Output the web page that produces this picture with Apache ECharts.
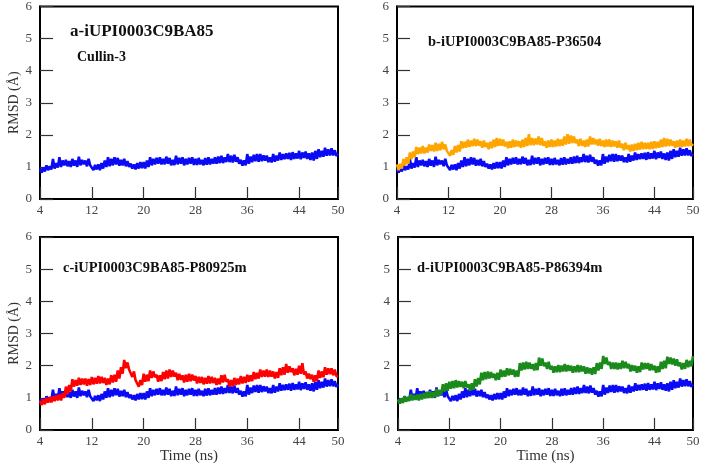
<!DOCTYPE html>
<html>
<head>
<meta charset="utf-8">
<script src="https://cdn.jsdelivr.net/npm/echarts@6/dist/echarts.min.js"></script>
<style>
  html, body { margin: 0; padding: 0; background: #fff; }
  #chart { width: 704px; height: 469px; }
</style>
</head>
<body>
<div id="chart"></div>
<script>
// time axis: 4 .. 50 ns, one sample every 0.25 ns
const tStart = 4;
const tStep = 0.25;

// reference complex (blue) - same trace in all four panels
const rmsdBlue = [
  0.95, 0.82, 0.98, 0.86,  1.05, 0.9, 1.02, 0.92,
  1.25, 0.95, 1.12, 0.98,  1.3, 1.0, 1.2, 1.05,
  1.22, 1.02, 1.18, 1.0,  1.25, 1.04, 1.2, 1.0,
  1.32, 1.05, 1.22, 1.08,  1.2, 1.02, 1.25, 1.05,
  1.1, 0.9, 1.06, 0.92,  1.08, 0.9, 1.12, 0.95,
  1.2, 1.0, 1.3, 1.02,  1.25, 1.05, 1.3, 1.08,
  1.28, 1.04, 1.22, 1.05,  1.25, 1.02, 1.18, 1.0,
  1.1, 0.95, 1.08, 0.92,  1.12, 0.95, 1.15, 0.96,
  1.15, 0.95, 1.2, 1.0,  1.3, 1.05, 1.25, 1.08,
  1.28, 1.1, 1.3, 1.08,  1.25, 1.08, 1.32, 1.1,
  1.28, 1.05, 1.22, 1.06,  1.35, 1.08, 1.28, 1.1,
  1.3, 1.05, 1.25, 1.08,  1.28, 1.1, 1.3, 1.06,
  1.25, 1.06, 1.28, 1.08,  1.22, 1.05, 1.28, 1.07,
  1.3, 1.08, 1.25, 1.1,  1.3, 1.1, 1.32, 1.12,
  1.35, 1.12, 1.3, 1.15,  1.4, 1.15, 1.35, 1.14,
  1.38, 1.16, 1.3, 1.1,  1.22, 1.04, 1.2, 1.05,
  1.4, 1.1, 1.32, 1.15,  1.38, 1.18, 1.4, 1.16,
  1.4, 1.18, 1.36, 1.2,  1.35, 1.15, 1.3, 1.14,
  1.4, 1.16, 1.35, 1.2,  1.45, 1.22, 1.4, 1.24,
  1.42, 1.25, 1.44, 1.22,  1.46, 1.25, 1.42, 1.26,
  1.5, 1.24, 1.45, 1.28,  1.48, 1.25, 1.42, 1.22,
  1.45, 1.2, 1.5, 1.25,  1.55, 1.3, 1.5, 1.32,
  1.6, 1.35, 1.55, 1.36,  1.58, 1.36, 1.52, 1.34,
  1.42
];

// b - P36504 (orange)
const rmsdOrange = [
  1.08, 0.9, 1.1, 0.95,  1.25, 1.05, 1.3, 1.1,
  1.45, 1.25, 1.48, 1.3,  1.62, 1.4, 1.6, 1.42,
  1.65, 1.42, 1.6, 1.45,  1.7, 1.5, 1.68, 1.48,
  1.75, 1.5, 1.72, 1.52,  1.78, 1.55, 1.7, 1.5,
  1.55, 1.35, 1.52, 1.38,  1.65, 1.45, 1.68, 1.48,
  1.8, 1.58, 1.78, 1.6,  1.85, 1.62, 1.82, 1.65,
  1.88, 1.65, 1.85, 1.66,  1.8, 1.6, 1.82, 1.62,
  1.75, 1.55, 1.78, 1.58,  1.85, 1.62, 1.9, 1.65,
  1.88, 1.66, 1.85, 1.64,  1.78, 1.58, 1.8, 1.6,
  1.85, 1.62, 1.82, 1.64,  1.8, 1.6, 1.85, 1.62,
  1.9, 1.65, 2.02, 1.68,  1.9, 1.68, 1.88, 1.7,
  1.95, 1.68, 1.9, 1.66,  1.8, 1.6, 1.82, 1.62,
  1.85, 1.62, 1.82, 1.64,  1.88, 1.65, 1.85, 1.66,
  1.95, 1.7, 2.02, 1.72,  1.98, 1.75, 1.95, 1.74,
  1.85, 1.65, 1.88, 1.66,  1.82, 1.62, 1.85, 1.64,
  1.95, 1.7, 1.9, 1.7,  1.85, 1.66, 1.88, 1.65,
  1.82, 1.62, 1.85, 1.64,  1.85, 1.62, 1.82, 1.64,
  1.8, 1.6, 1.82, 1.6,  1.72, 1.52, 1.75, 1.55,
  1.68, 1.48, 1.7, 1.5,  1.72, 1.52, 1.75, 1.54,
  1.78, 1.55, 1.75, 1.56,  1.75, 1.55, 1.78, 1.56,
  1.8, 1.58, 1.78, 1.6,  1.85, 1.62, 1.9, 1.64,
  1.88, 1.65, 1.85, 1.66,  1.8, 1.6, 1.82, 1.62,
  1.85, 1.62, 1.82, 1.64,  1.88, 1.65, 1.85, 1.66,
  1.72
];

// c - P80925m (red)
const rmsdRed = [
  0.9, 0.78, 0.95, 0.8,  1.0, 0.85, 1.02, 0.86,
  1.05, 0.9, 1.08, 0.92,  1.1, 0.92, 1.15, 1.0,
  1.35, 1.1, 1.4, 1.2,  1.58, 1.35, 1.55, 1.38,
  1.62, 1.4, 1.6, 1.42,  1.6, 1.38, 1.58, 1.4,
  1.65, 1.42, 1.62, 1.44,  1.68, 1.45, 1.65, 1.46,
  1.62, 1.4, 1.6, 1.42,  1.7, 1.48, 1.72, 1.5,
  1.85, 1.6, 1.95, 1.75,  2.18, 1.92, 2.1, 1.88,
  1.9, 1.65, 1.82, 1.55,  1.58, 1.35, 1.55, 1.4,
  1.75, 1.5, 1.72, 1.52,  1.85, 1.62, 1.82, 1.64,
  1.72, 1.5, 1.7, 1.52,  1.8, 1.58, 1.85, 1.6,
  1.88, 1.65, 1.85, 1.66,  1.78, 1.55, 1.75, 1.56,
  1.7, 1.48, 1.72, 1.5,  1.75, 1.52, 1.72, 1.54,
  1.68, 1.45, 1.65, 1.46,  1.65, 1.42, 1.62, 1.44,
  1.68, 1.45, 1.65, 1.46,  1.62, 1.4, 1.6, 1.42,
  1.7, 1.48, 1.72, 1.5,  1.58, 1.35, 1.55, 1.36,
  1.62, 1.4, 1.6, 1.42,  1.68, 1.45, 1.65, 1.46,
  1.72, 1.5, 1.7, 1.52,  1.8, 1.58, 1.78, 1.6,
  1.88, 1.65, 1.85, 1.66,  1.88, 1.65, 1.85, 1.66,
  1.82, 1.6, 1.8, 1.62,  1.92, 1.7, 1.95, 1.72,
  2.05, 1.78, 1.98, 1.8,  1.92, 1.7, 1.9, 1.72,
  2.0, 1.75, 2.08, 1.72,  1.82, 1.6, 1.75, 1.58,
  1.72, 1.5, 1.7, 1.52,  1.85, 1.62, 1.82, 1.64,
  1.95, 1.72, 1.92, 1.74,  1.92, 1.7, 1.88, 1.68,
  1.65
];

// d - P86394m (green)
const rmsdGreen = [
  0.95, 0.82, 0.98, 0.84,  1.05, 0.88, 1.02, 0.9,
  1.12, 0.92, 1.08, 0.94,  1.1, 0.92, 1.12, 0.95,
  1.15, 0.98, 1.18, 1.0,  1.2, 1.0, 1.18, 1.02,
  1.28, 1.05, 1.25, 1.1,  1.42, 1.2, 1.45, 1.22,
  1.5, 1.28, 1.52, 1.3,  1.55, 1.32, 1.52, 1.34,
  1.5, 1.3, 1.52, 1.32,  1.42, 1.22, 1.45, 1.25,
  1.58, 1.35, 1.62, 1.42,  1.78, 1.55, 1.8, 1.58,
  1.82, 1.6, 1.8, 1.62,  1.75, 1.55, 1.78, 1.56,
  1.88, 1.65, 1.85, 1.66,  1.92, 1.7, 1.9, 1.72,
  1.88, 1.65, 1.85, 1.66,  2.08, 1.85, 2.1, 1.88,
  2.12, 1.9, 2.1, 1.9,  2.05, 1.85, 2.08, 1.86,
  2.25, 2.0, 2.22, 1.98,  2.1, 1.9, 2.12, 1.88,
  2.0, 1.78, 1.98, 1.8,  2.02, 1.8, 2.0, 1.82,
  2.05, 1.82, 2.02, 1.84,  2.0, 1.78, 1.98, 1.8,
  2.02, 1.8, 2.0, 1.82,  1.98, 1.75, 1.95, 1.76,
  1.92, 1.72, 1.95, 1.74,  2.08, 1.85, 2.1, 1.9,
  2.3, 2.05, 2.25, 2.02,  2.12, 1.9, 2.1, 1.9,
  2.1, 1.88, 2.08, 1.9,  2.15, 1.92, 2.12, 1.92,
  2.05, 1.82, 2.02, 1.84,  2.0, 1.78, 1.98, 1.8,
  2.1, 1.88, 2.08, 1.9,  2.08, 1.85, 2.05, 1.86,
  2.0, 1.78, 1.98, 1.8,  2.12, 1.9, 2.15, 1.92,
  2.28, 2.05, 2.25, 2.04,  2.22, 2.0, 2.2, 1.98,
  2.1, 1.88, 2.08, 1.9,  2.18, 1.95, 2.15, 1.98,
  2.3
];

const panelTitles = ['a-iUPI0003C9BA85', 'b-iUPI0003C9BA85-P36504', 'c-iUPI0003C9BA85-P80925m', 'd-iUPI0003C9BA85-P86394m'];
const subTitle = 'Cullin-3';
const yName = 'RMSD (Å)';
const xName = 'Time (ns)';

const SERIF = '"Liberation Serif", "DejaVu Serif", serif';

function toPairs(vals) {
  return vals.map((v, i) => [tStart + i * tStep, v]);
}

const grids = [
  { left: 40, top: 5, width: 298, height: 194 },
  { left: 397, top: 5, width: 296, height: 194 },
  { left: 40, top: 237, width: 298, height: 193 },
  { left: 398, top: 237, width: 295, height: 193 }
];

const panels = [
  { extra: null, color: null },
  { extra: rmsdOrange, color: '#ffa500' },
  { extra: rmsdRed, color: '#ff0000' },
  { extra: rmsdGreen, color: '#1a8a1a' }
];

let xAxes = [], yAxes = [], series = [];
grids.forEach((g, i) => {
  xAxes.push({
    type: 'value', gridIndex: i, min: 4, max: 50, interval: 8,
    name: i >= 2 ? xName : '', nameLocation: 'middle', nameGap: 17,
    nameTextStyle: { fontFamily: SERIF, fontSize: 15, color: '#333' },
    axisLine: { show: true, lineStyle: { color: '#000', width: 2 } },
    axisTick: { show: true, inside: true, length: 12, lineStyle: { color: '#333', width: 1.2 } },
    axisLabel: { margin: 5, fontFamily: SERIF, fontSize: 13, color: '#444', showMinLabel: true, showMaxLabel: true },
    splitLine: { show: false }
  });
  yAxes.push({
    type: 'value', gridIndex: i, min: 0, max: 6, interval: 1,
    name: (i % 2 === 0) ? yName : '', nameLocation: 'middle', nameGap: 18,
    nameTextStyle: { fontFamily: SERIF, fontSize: 14, color: '#333' },
    axisLine: { show: true, lineStyle: { color: '#000', width: 2 } },
    axisTick: { show: true, inside: true, length: 13, lineStyle: { color: '#333', width: 1.2 } },
    axisLabel: { margin: 8, fontFamily: SERIF, fontSize: 13, color: '#444' },
    splitLine: { show: false }
  });
  series.push({
    type: 'line', xAxisIndex: i, yAxisIndex: i, data: toPairs(rmsdBlue),
    showSymbol: false, lineStyle: { color: '#0a0af5', width: 2.6 }, z: 2
  });
  if (panels[i].extra) {
    series.push({
      type: 'line', xAxisIndex: i, yAxisIndex: i, data: toPairs(panels[i].extra),
      showSymbol: false, lineStyle: { color: panels[i].color, width: 2.6 }, z: 3
    });
  }
});

const titleText = [
  { x: 70, y: 32, text: panelTitles[0], size: 17 },
  { x: 77, y: 57, text: subTitle, size: 14 },
  { x: 428, y: 42, text: panelTitles[1], size: 14.5 },
  { x: 63, y: 268, text: panelTitles[2], size: 14.5 },
  { x: 417, y: 268, text: panelTitles[3], size: 14.5 }
];

const myChart = echarts.init(document.getElementById('chart'));
myChart.setOption({
  animation: false,
  backgroundColor: '#fff',
  grid: grids.map(g => Object.assign({ show: true, borderColor: '#000', borderWidth: 2, backgroundColor: 'transparent' }, g)),
  xAxis: xAxes,
  yAxis: yAxes,
  series: series,
  graphic: titleText.map(t => ({
    type: 'text', x: t.x, y: t.y, z: 10,
    style: { text: t.text, fill: '#111', font: 'bold ' + t.size + 'px ' + SERIF, verticalAlign: 'middle' }
  }))
});
</script>
</body>
</html>
